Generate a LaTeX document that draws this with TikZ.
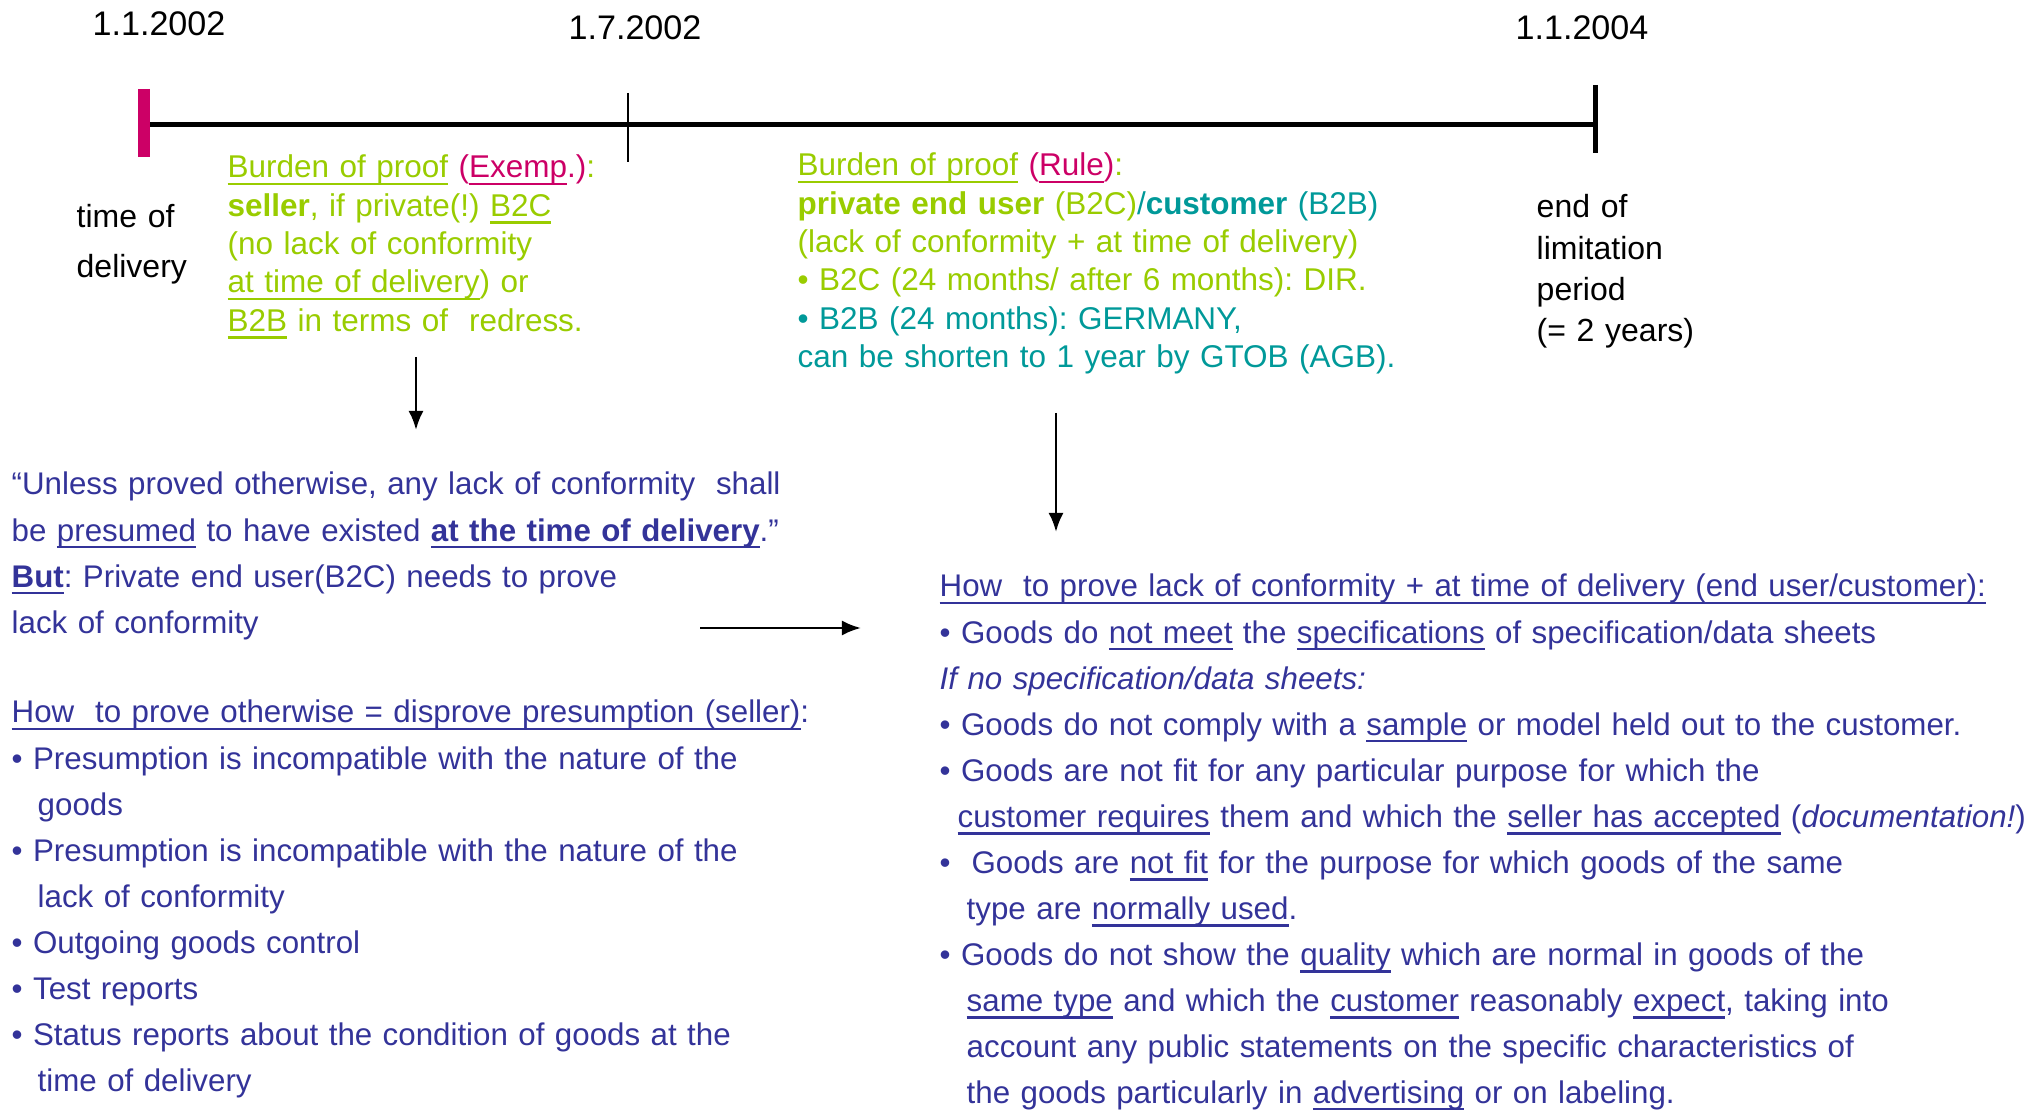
\documentclass[tikz,border=0pt]{standalone}
\usepackage{fontspec}
\setmainfont{Liberation Sans}
\usepackage{xcolor}
\usetikzlibrary{arrows.meta}
\definecolor{limegreen}{HTML}{99CC00}
\definecolor{tealtext}{HTML}{009999}
\definecolor{crimson}{HTML}{CC0066}
\definecolor{navyblue}{HTML}{333399}
\frenchspacing
\newcommand{\undl}[1]{\leavevmode\setbox0\hbox{#1}\rlap{\vrule height -1.3pt depth 2.05pt width \wd0}\box0\relax}
\tikzstyle{datelabel} = [anchor=base, inner sep=0pt, font=\fontsize{9.7}{11}\selectfont]
\tikzstyle{block} = [anchor=base west, inner sep=0pt, text width=12cm, align=left]
\tikzstyle{greenblock} = [block, text=limegreen, font=\fontsize{8.95}{10.9}\selectfont]
\tikzstyle{blueblock} = [block, text=navyblue, font=\fontsize{8.9}{13.1}\selectfont]
\tikzstyle{arrow} = [line width=0.75pt, -{Latex[length=0.19cm,width=0.15cm]}]

\begin{document}
\begin{tikzpicture}[x=0.01cm, y=-0.01cm]
\useasboundingbox (0,0) rectangle (2036,1110);

% time line
\coordinate (start) at (144,125);
\coordinate (mid) at (628,125);
\coordinate (stop) at (1595,125);
\draw [line width=0.05cm] (start) -- (stop);
\draw [crimson, line width=0.12cm] ([yshift=0.36cm]start) -- ([yshift=-0.32cm]start);
\draw [line width=0.015cm] ([yshift=0.32cm]mid) -- ([yshift=-0.37cm]mid);
\draw [line width=0.05cm] ([yshift=0.4cm]stop) -- ([yshift=-0.28cm]stop);

\node (d1) [datelabel] at (159,36) {1.1.2002};
\node (d2) [datelabel] at (635,40) {1.7.2002};
\node (d3) [datelabel] at (1582,40) {1.1.2004};

\node (delivery) [block, font=\fontsize{9.1}{14.2}\selectfont] at (76,228) {time of\\delivery};
\node (limit) [block, font=\fontsize{9.1}{11.7}\selectfont] at (1536,218) {end of\\limitation\\period\\(= 2 years)};

% burden of proof
\node (exemp) [greenblock] at (227,178) {\undl{Burden of proof} \textcolor{crimson}{(\undl{Exemp}.)}:\\
\textbf{seller}, if private(!) \undl{B2C}\\
(no lack of conformity\\
\undl{at time of delivery}) or\\
\undl{B2B} in terms of\ \ redress.};
\node (rule) [greenblock] at (797,176) {\undl{Burden of proof} \textcolor{crimson}{(\undl{Rule})}:\\
\textbf{private end user} (B2C)\textcolor{tealtext}{/\textbf{customer} (B2B)}\\
(lack of conformity + at time of delivery)\\
• B2C (24 months/ after 6 months): DIR.\\
\textcolor{tealtext}{• B2B (24 months): GERMANY,}\\
\textcolor{tealtext}{can be shorten to 1 year by GTOB (AGB).}};

% presumption
\node (quote) [blueblock] at (11,495) {“Unless proved otherwise, any lack of conformity\ \ shall\\
be \undl{presumed} to have existed \textbf{\undl{at the time of delivery}}.”\\
\textbf{\undl{But}}: Private end user(B2C) needs to prove\\
lack of conformity};
\node (seller) [blueblock] at (11,723) {\undl{How\ \ to prove otherwise = disprove presumption (seller)}:\\
• Presumption is incompatible with the nature of the\\
\hspace*{0.26cm}goods\\
• Presumption is incompatible with the nature of the\\
\hspace*{0.26cm}lack of conformity\\
• Outgoing goods control\\
• Test reports\\
• Status reports about the condition of goods at the\\
\hspace*{0.26cm}time of delivery};
\node (customer) [blueblock] at (939,597) {\undl{How\ \ to prove lack of conformity + at time of delivery (end user/customer):}\\
• Goods do \undl{not meet} the \undl{specifications} of specification/data sheets\\
\textit{If no specification/data sheets:}\\
• Goods do not comply with a \undl{sample} or model held out to the customer.\\
• Goods are not fit for any particular purpose for which the\\
\hspace*{0.18cm}\undl{customer requires} them and which the \undl{seller has accepted} (\textit{documentation!})\\
•\ \ Goods are \undl{not fit} for the purpose for which goods of the same\\
\hspace*{0.27cm}type are \undl{normally used}.\\
• Goods do not show the \undl{quality} which are normal in goods of the\\
\hspace*{0.27cm}\undl{same type} and which the \undl{customer} reasonably \undl{expect}, taking into\\
\hspace*{0.27cm}account any public statements on the specific characteristics of\\
\hspace*{0.27cm}the goods particularly in \undl{advertising} or on labeling.};

% arrows
\coordinate (a1) at (416,357);
\coordinate (b1) at (416,430);
\coordinate (a2) at (1056,413);
\coordinate (b2) at (1056,532);
\coordinate (a3) at (700,628);
\coordinate (b3) at (861,628);
\draw [arrow] (a1) -- (b1);
\draw [arrow] (a2) -- (b2);
\draw [arrow] (a3) -- (b3);
\end{tikzpicture}
\end{document}
